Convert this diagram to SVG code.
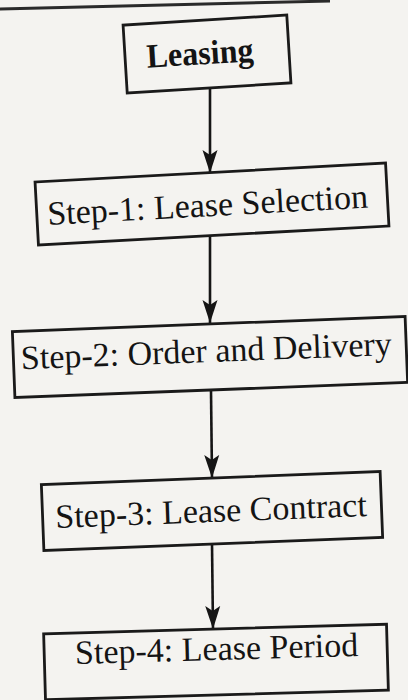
<svg xmlns="http://www.w3.org/2000/svg" width="408" height="700" viewBox="0 0 408 700">
  <defs>
    <marker id="arr" markerUnits="userSpaceOnUse" markerWidth="24" markerHeight="16" viewBox="0 0 24 16" refX="23" refY="8" orient="auto">
      <path d="M0,0.5 L23,8 L0,15.5 L5,8 Z" fill="#151515"/>
    </marker>
    <style>
      .box { fill: none; stroke: #1a1a1a; stroke-width: 2.8; }
      .lbl { font-family: "Liberation Serif", "Times New Roman", serif; font-size: 34px; fill: #141414; text-anchor: middle; }
      .conn { stroke: #151515; stroke-width: 2.6; fill: none; marker-end: url(#arr); }
    </style>
  </defs>
  <rect width="408" height="700" fill="#f4f3f0"/>
  <path d="M0,9 L330,1" stroke="#2a2a2a" stroke-width="3" fill="none"/>

  <g id="connectors">
    <path class="conn" d="M210,88 L210,173"/>
    <path class="conn" d="M210,236 L210,323"/>
    <path class="conn" d="M211,391 L212,478"/>
    <path class="conn" d="M212,544 L213,629"/>
  </g>

  <g id="leasing" transform="translate(207,54) rotate(-3.5)">
    <rect class="box" x="-82" y="-34" width="164" height="68"/>
    <text class="lbl" x="-7" y="10" font-weight="bold" textLength="107" lengthAdjust="spacingAndGlyphs">Leasing</text>
  </g>

  <g id="step1" transform="translate(212,204) rotate(-3.1)">
    <rect class="box" x="-175.5" y="-31.5" width="351" height="63"/>
    <text class="lbl" x="-4.5" y="12">Step-1: Lease Selection</text>
  </g>

  <g id="step2" transform="translate(210,357) rotate(-2.2)">
    <rect class="box" x="-196.5" y="-33" width="393" height="66"/>
    <text class="lbl" x="-3.5" y="5">Step-2: Order and Delivery</text>
  </g>

  <g id="step3" transform="translate(212,511) rotate(-2.2)">
    <rect class="box" x="-169.5" y="-33" width="339" height="66"/>
    <text class="lbl" x="-1" y="11">Step-3: Lease Contract</text>
  </g>

  <g id="step4" transform="translate(216,662) rotate(-1.6)">
    <rect class="box" x="-171.5" y="-33" width="343" height="66"/>
    <text class="lbl" x="1" y="-2">Step-4: Lease Period</text>
  </g>
</svg>
